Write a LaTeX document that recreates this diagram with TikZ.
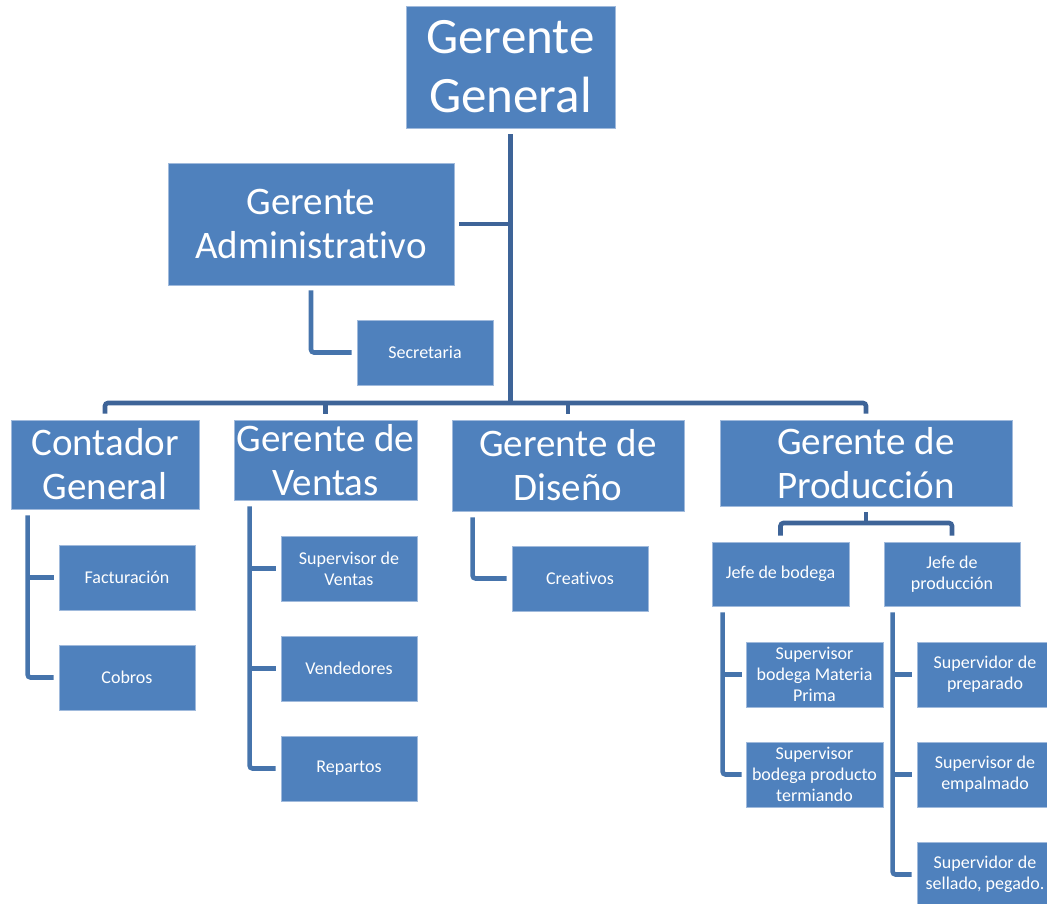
\documentclass[tikz,border=0pt]{standalone}
\usepackage{fontspec}
\setmainfont{Carlito}[Ligatures={NoCommon,NoRequired,NoContextual}]
\definecolor{boxblue}{RGB}{79,129,189}
\definecolor{boxedge}{RGB}{160,186,220}
\definecolor{lineA}{RGB}{62,100,152}
\definecolor{lineB}{RGB}{70,116,172}
\newcommand{\bx}[7]{%
  \pgfmathsetmacro{\bw}{#4-#2}\pgfmathsetmacro{\bh}{#5-#3}%
  \pgfmathsetmacro{\cx}{(#2+#4)/2}\pgfmathsetmacro{\cy}{(#3+#5)/2}%
  \node[#7, minimum width=\bw pt, minimum height=\bh pt] (#1) at (\cx,\cy) {#6};}
\begin{document}
\begin{tikzpicture}[x=1pt,y=-1pt,
  box/.style={fill=boxblue, draw=boxedge, line width=0.8pt, inner sep=0pt, align=center, text=white},
  big/.style={box, font=\fontsize{51}{59}\selectfont},
  mid/.style={box, font=\fontsize{39}{44}\selectfont},
  sml/.style={box, font=\fontsize{18}{21}\selectfont},
  ln/.style={draw=lineA, line width=4.6pt, rounded corners=3pt},
  lnb/.style={draw=lineB, line width=4.6pt, rounded corners=3pt}]
\useasboundingbox (0,0) rectangle (1047,903);
\clip (0,0) rectangle (1047,903);
% boxes
\bx{gg}{406}{6}{615}{128}{Gerente\\General}{big}
\bx{adm}{168}{163}{454}{285}{Gerente\\Administrativo}{mid}
\bx{sec}{357}{320}{493}{385}{Secretaria}{sml}
\bx{cont}{11}{420}{199}{509}{Contador\\General}{mid}
\bx{ven}{234}{420}{417}{500}{Gerente de\\Ventas}{mid}
\bx{dis}{452}{420}{684}{511}{Gerente de\\Diseño}{mid}
\bx{prod}{720}{420}{1012}{506}{Gerente de\\Producción}{mid}
\bx{fac}{59}{545}{195}{610}{Facturación}{sml}
\bx{cob}{59}{645}{195}{710}{Cobros}{sml}
\bx{sv}{281}{536}{417}{601}{Supervisor de\\Ventas}{sml}
\bx{vend}{281}{636}{417}{701}{Vendedores}{sml}
\bx{rep}{281}{736}{417}{801}{Repartos}{sml}
\bx{cre}{512}{546}{648}{611}{Creativos}{sml}
\bx{jb}{712}{542}{849}{606}{Jefe de bodega}{sml}
\bx{jp}{884}{542}{1020}{606}{Jefe de\\producción}{sml}
\bx{sbm}{746}{642}{883}{707}{Supervisor\\bodega Materia\\Prima}{sml}
\bx{sbp}{746}{742}{883}{807}{Supervisor\\bodega producto\\termiando}{sml}
\bx{spr}{917}{642}{1053}{707}{Supervidor de\\preparado}{sml}
\bx{sem}{917}{742}{1053}{807}{Supervisor de\\empalmado}{sml}
\bx{ssp}{917}{842}{1053}{907}{Supervidor de\\sellado, pegado.}{sml}
% coordinates
\coordinate (bar) at (510.5,403);
\coordinate (pj) at (866,523);
% top level
\draw[ln] ([yshift=-6pt]gg.south) -- (bar);
\draw[ln] ([xshift=5pt]adm.east) -- (gg.south |- adm.east);
\draw[ln] ([yshift=6pt]cont.north) |- (bar) -| ([yshift=6pt]prod.north);
\draw[ln] ([yshift=6pt]ven.north) -- (ven.north |- bar);
\draw[ln] ([yshift=6pt]dis.north) -- (dis.north |- bar);
% admin
\draw[lnb] ([yshift=-5pt]adm.south) |- ([xshift=-5pt]sec.west);
% contador
\coordinate (cv) at ([shift={(17pt,-6pt)}]cont.south west);
\draw[lnb] (cv) |- ([xshift=-5pt]cob.west);
\draw[draw=lineB, line width=4.6pt] (cv |- fac.west) -- ([xshift=-5pt]fac.west);
% ventas
\coordinate (vv) at ([shift={(16pt,-6pt)}]ven.south west);
\draw[lnb] (vv) |- ([xshift=-5pt]rep.west);
\draw[draw=lineB, line width=4.6pt] (vv |- sv.west) -- ([xshift=-5pt]sv.west);
\draw[draw=lineB, line width=4.6pt] (vv |- vend.west) -- ([xshift=-5pt]vend.west);
% diseno
\draw[lnb] ([shift={(21pt,-6pt)}]dis.south west) |- ([xshift=-5pt]cre.west);
% produccion
\draw[ln] ([yshift=-6pt]prod.south) -- (pj);
\draw[ln] ([yshift=6pt]jb.north) |- (pj) -| ([yshift=6pt]jp.north);
% jefe bodega
\coordinate (bv) at ([shift={(11pt,-6pt)}]jb.south west);
\draw[lnb] (bv) |- ([xshift=-4pt]sbp.west);
\draw[draw=lineB, line width=4.6pt] (bv |- sbm.west) -- ([xshift=-4pt]sbm.west);
% jefe produccion
\coordinate (pv) at ([shift={(9pt,-6pt)}]jp.south west);
\draw[lnb] (pv) |- ([xshift=-5pt]ssp.west);
\draw[draw=lineB, line width=4.6pt] (pv |- spr.west) -- ([xshift=-5pt]spr.west);
\draw[draw=lineB, line width=4.6pt] (pv |- sem.west) -- ([xshift=-5pt]sem.west);
\end{tikzpicture}
\end{document}
